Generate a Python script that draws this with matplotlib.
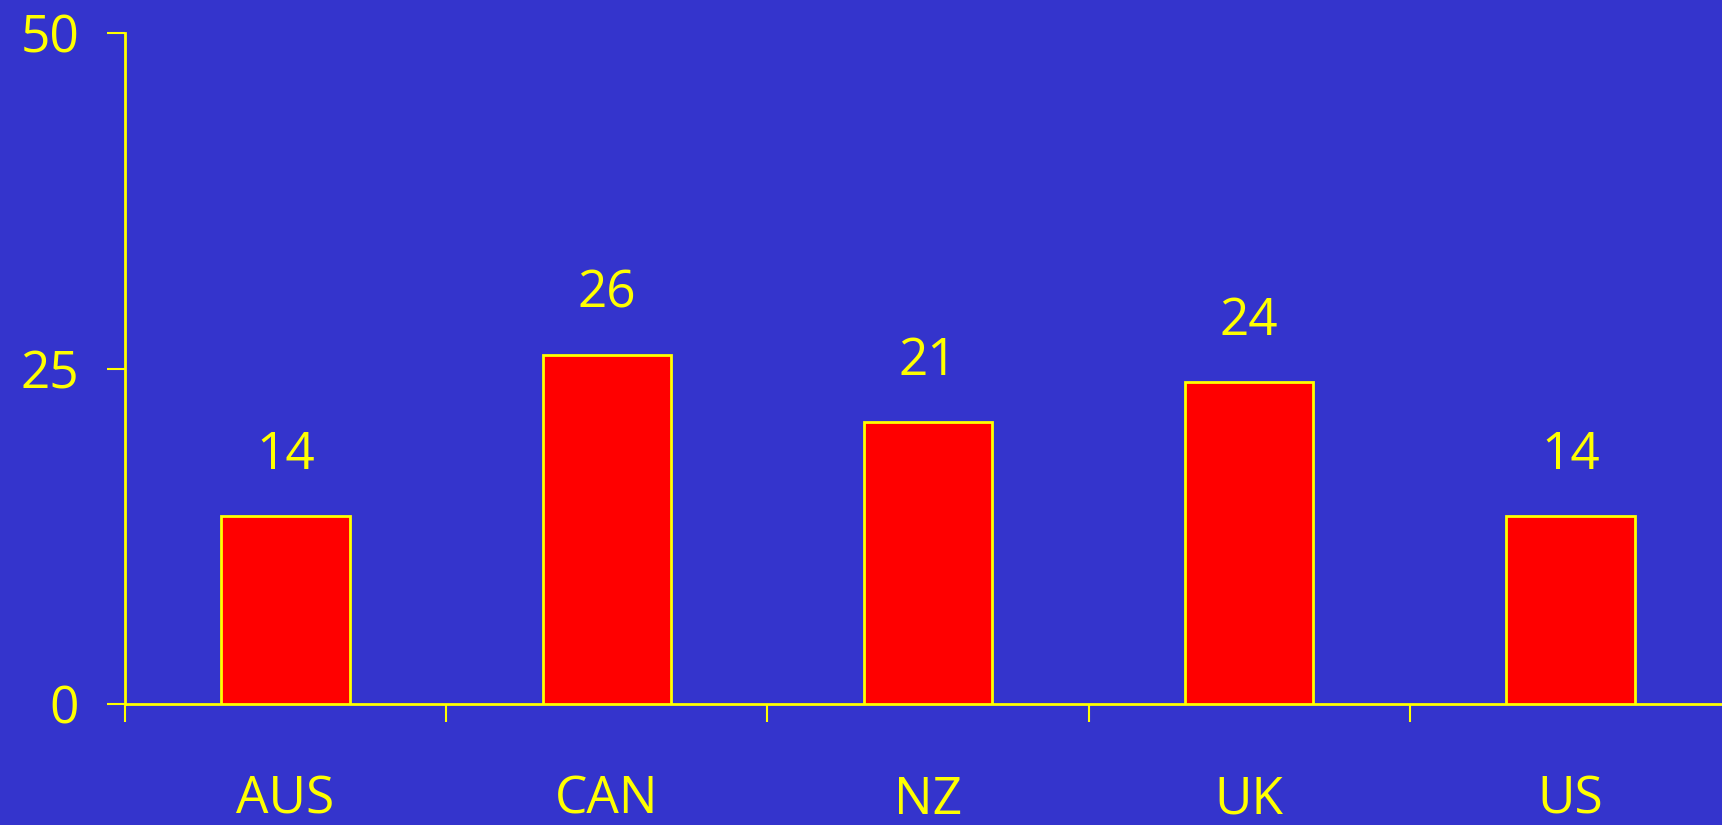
import matplotlib
matplotlib.use("Agg")
import matplotlib.pyplot as plt

countries = ["AUS", "CAN", "NZ", "UK", "US"]
values = [14, 26, 21, 24, 14]
y_ticks = [0, 25, 50]

BG = "#3434cc"
FG = "#ffff00"
BAR = "#ff0000"

plt.rcParams["font.family"] = ["Open Sans", "DejaVu Sans"]

fig = plt.figure(figsize=(17.22, 8.25), dpi=100, facecolor=BG)
ax = fig.add_axes([125 / 1722, 1 - 704 / 825, 1606 / 1722, 671 / 825])
ax.set_facecolor(BG)

centers = [i + 0.5 for i in range(len(countries))]
ax.bar(centers, values, width=0.4, color=BAR, edgecolor=FG, linewidth=2, zorder=3)

for x, v in zip(centers, values):
    ax.annotate(str(v), (x, v), xytext=(0, 34), textcoords="offset points",
                ha="center", va="baseline", color=FG, fontsize=37)

ax.set_xlim(0, len(countries))
ax.set_ylim(0, 50)
ax.set_yticks(y_ticks)
ax.set_xticks(range(len(countries) + 1))
ax.set_xticklabels([])
ax.set_xticks(centers, minor=True)
ax.set_xticklabels(countries, minor=True)

for s in ["top", "right"]:
    ax.spines[s].set_visible(False)
for s in ["left", "bottom"]:
    ax.spines[s].set_color(FG)
    ax.spines[s].set_linewidth(2)

ax.tick_params(axis="y", colors=FG, length=13, width=1.5, labelsize=37, pad=20)
ax.tick_params(axis="x", which="major", colors=FG, length=13, width=1.5)
ax.tick_params(axis="x", which="minor", colors=FG, length=0, labelsize=37, pad=51)

fig.savefig("out.png", dpi=100, facecolor=BG)
